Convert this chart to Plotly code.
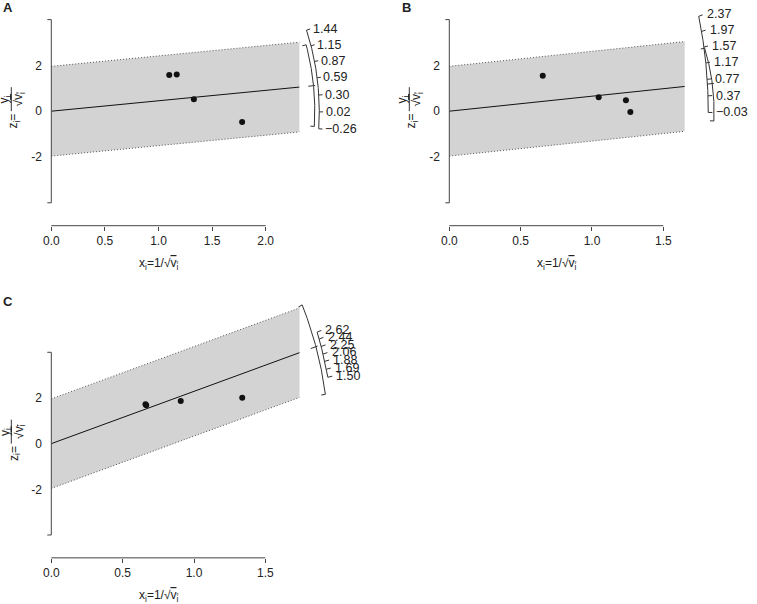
import numpy as np
import plotly.graph_objects as go

W, H = 757, 604
FONT = "Liberation Sans, Arial, Helvetica, sans-serif"
INK = "#222222"
AXC = "#444444"

# ---------------- data ----------------
A_xi = [1.10, 1.17, 1.33, 1.78]
A_zi = [1.58, 1.60, 0.52, -0.47]
A_est, A_ci_lb, A_ci_ub = 0.455, -0.27, 1.22
A_arc_ticks = [-0.26, 0.02, 0.30, 0.59, 0.87, 1.15, 1.44]
A_xticks = [0.0, 0.5, 1.0, 1.5, 2.0]

B_xi = [0.655, 1.047, 1.238, 1.269]
B_zi = [1.553, 0.61, 0.48, -0.04]
B_est, B_ci_lb, B_ci_ub = 0.655, -0.23, 1.54
B_arc_ticks = [-0.03, 0.37, 0.77, 1.17, 1.57, 1.97, 2.37]
B_xticks = [0.0, 0.5, 1.0, 1.5]

C_xi = [0.66, 0.665, 0.907, 1.338]
C_zi = [1.73, 1.68, 1.87, 2.01]
C_est, C_ci_lb, C_ci_ub = 2.29, 1.125, 3.455
C_arc_ticks = [1.50, 1.69, 1.88, 2.06, 2.25, 2.44, 2.62]
C_xticks = [0.0, 0.5, 1.0, 1.5]

y_tick_vals = [-2, 0, 2]
y_tick_text = ["-2", "0", "2"]
y_axis_span = [-4, 4]
x_axis_z = -5
zcrit = 1.96

# ---------------- panel geometry (pixels) ----------------
panels = [
    dict(name="A", ax="", xi=A_xi, zi=A_zi, est=A_est, lb=A_ci_lb, ub=A_ci_ub,
         arc=A_arc_ticks, xticks=A_xticks,
         x0=51.3, sx=107.2, z0=111.2, sz=22.9, left=0, right=378, top=0, bottom=290,
         asp_ci=4.64, asp_ya=4.64, L_ci=2.458, L_ya=2.50, arc_k=1.055, arc_m=0.6,
         tick_f=1.014, lab_f=1.016, lab_shift=0, letter=(1.0, 7.0)),
    dict(name="B", ax="2", xi=B_xi, zi=B_zi, est=B_est, lb=B_ci_lb, ub=B_ci_ub,
         arc=B_arc_ticks, xticks=B_xticks,
         x0=449.3, sx=142.67, z0=111.2, sz=22.9, left=380, right=757, top=0, bottom=290,
         asp_ci=5.6, asp_ya=8.5, L_ci=1.856, L_ya=1.815, arc_k=1.0, arc_m=0.0,
         tick_f=1.016, lab_f=1.02, lab_shift=1, letter=(399.5, 7.0)),
    dict(name="C", ax="3", xi=C_xi, zi=C_zi, est=C_est, lb=C_ci_lb, ub=C_ci_ub,
         arc=C_arc_ticks, xticks=C_xticks,
         x0=51.3, sx=142.7, z0=443.65, sz=22.84, left=0, right=378, top=292, bottom=604,
         asp_ci=7.34, asp_ya=7.34, L_ci=1.943, L_ya=1.978, arc_k=1.0, arc_m=0.0,
         tick_f=1.016, lab_f=1.02, lab_shift=1, letter=(0.5, 301.0)),
]


def arc_xy(L, a, th):
    th = np.asarray(th, dtype=float)
    x = L / np.sqrt(1.0 + (th / a) ** 2)
    return x, x * th


def fmt(v):
    return f"{v:.2f}".replace("-", "\u2212")


fig = go.Figure()
annotations = []
shapes = []
layout_axes = {}

for p in panels:
    xa = "x" + p["ax"]
    ya = "y" + p["ax"]
    common = dict(xaxis=xa, yaxis=ya, hoverinfo="skip", showlegend=False)
    xi = np.array(p["xi"])
    zi = np.array(p["zi"])
    est = p["est"]
    xmax = 1.3 * xi.max()

    # shaded band
    fig.add_trace(go.Scatter(
        x=[0, xmax, xmax, 0, 0],
        y=[zcrit, zcrit + xmax * est, -zcrit + xmax * est, -zcrit, zcrit],
        mode="lines", fill="toself", fillcolor="#D3D3D3",
        line=dict(width=0, color="rgba(0,0,0,0)"), **common))
    # dotted borders
    fig.add_trace(go.Scatter(
        x=[0, xmax, None, 0, xmax],
        y=[zcrit, zcrit + xmax * est, None, -zcrit, -zcrit + xmax * est],
        mode="lines", line=dict(color="#555555", width=1, dash="1px,2px"), **common))
    # regression line through origin
    fig.add_trace(go.Scatter(x=[0, xmax], y=[0, xmax * est], mode="lines",
                             line=dict(color="#111111", width=1), **common))
    # y axis line with end ticks
    t = 4.0 / p["sx"]
    fig.add_trace(go.Scatter(
        x=[-t, 0, 0, -t], y=[y_axis_span[1], y_axis_span[1], y_axis_span[0], y_axis_span[0]],
        mode="lines", line=dict(color=AXC, width=1), **common))
    # x axis line
    fig.add_trace(go.Scatter(x=[0, max(p["xticks"])], y=[x_axis_z, x_axis_z], mode="lines",
                             line=dict(color=AXC, width=1), **common))
    # points
    fig.add_trace(go.Scatter(x=xi, y=zi, mode="markers",
                             marker=dict(color="#111111", size=6), **common))

    k, m = p["arc_k"], p["arc_m"]
    # y-value arc with ticks and labels
    a = p["asp_ya"]
    arc = np.array(p["arc"])
    arc_draw = m + k * (arc - m)
    th = np.linspace(arc_draw.min(), arc_draw.max(), 150)
    ax_, az_ = arc_xy(p["L_ya"], a, th)
    fig.add_trace(go.Scatter(x=ax_, y=az_, mode="lines",
                             line=dict(color="#333333", width=1), **common))
    tx, tz = [], []
    for v, vd in zip(arc, arc_draw):
        x1, z1 = arc_xy(p["L_ya"], a, vd)
        x2, z2 = arc_xy(p["L_ya"] * p["tick_f"], a, vd)
        tx += [x1, x2, None]
        tz += [z1, z2, None]
        xl, zl = arc_xy(p["L_ya"] * p["lab_f"], a, vd)
        annotations.append(dict(x=float(xl), y=float(zl), xref=xa, yref=ya, text=fmt(v),
                                showarrow=False, xanchor="left", yanchor="middle",
                                xshift=p["lab_shift"],
                                font=dict(size=12.5, color=INK, family=FONT)))
    fig.add_trace(go.Scatter(x=tx, y=tz, mode="lines",
                             line=dict(color="#333333", width=1), **common))

    # CI arc
    a = p["asp_ci"]
    th = np.linspace(p["lb"], p["ub"], 150)
    cx, cz = arc_xy(p["L_ci"], a, th)
    fig.add_trace(go.Scatter(x=cx, y=cz, mode="lines",
                             line=dict(color="#333333", width=1), **common))
    tx, tz = [], []
    for v, (f1, f2) in ((p["lb"], (0.985, 1.0)), (p["ub"], (0.985, 1.0)), (est, (0.98, 1.006))):
        x1, z1 = arc_xy(p["L_ci"] * f1, a, v)
        x2, z2 = arc_xy(p["L_ci"] * f2, a, v)
        tx += [x1, x2, None]
        tz += [z1, z2, None]
    fig.add_trace(go.Scatter(x=tx, y=tz, mode="lines",
                             line=dict(color="#333333", width=1), **common))

    # axes
    xr = [(p["left"] - p["x0"]) / p["sx"], (p["right"] - p["x0"]) / p["sx"]]
    zr = [(p["z0"] - p["bottom"]) / p["sz"], (p["z0"] - p["top"]) / p["sz"]]
    axis_py = p["z0"] - x_axis_z * p["sz"]
    layout_axes["xaxis" + p["ax"]] = dict(
        domain=[p["left"] / W, p["right"] / W], range=xr, anchor="free",
        position=1 - axis_py / H, showgrid=False, zeroline=False, showline=False,
        tickmode="array", tickvals=p["xticks"], ticktext=[f"{v:.1f}" for v in p["xticks"]],
        ticks="outside", ticklen=4, tickwidth=1, tickcolor=AXC,
        tickfont=dict(size=12, color=INK, family=FONT), fixedrange=True)
    layout_axes["yaxis" + p["ax"]] = dict(
        domain=[1 - p["bottom"] / H, 1 - p["top"] / H], range=zr, anchor="free",
        position=p["x0"] / W, showgrid=False, zeroline=False, showline=False,
        tickmode="array", tickvals=y_tick_vals, ticktext=y_tick_text,
        ticks="outside", ticklen=7, tickcolor="rgba(0,0,0,0)",
        tickfont=dict(size=12, color=INK, family=FONT), fixedrange=True)

    # x-axis title
    mid = (min(p["xticks"]) + max(p["xticks"])) / 2
    annotations.append(dict(
        x=mid, xref=xa, y=1 - (axis_py + 38) / H, yref="paper",
        text="x<sub>i</sub>=1/\u221a<span style='text-decoration:overline'>v<sub>i</sub></span>",
        showarrow=False, xanchor="center", yanchor="middle",
        font=dict(size=12, color=INK, family=FONT)))

    # y-axis title: z_i = y_i / sqrt(v_i)  (rotated fraction)
    X0, Z0 = p["x0"], p["z0"]

    def pann(text, xpx, ypx, size=12):
        annotations.append(dict(x=xpx / W, y=1 - ypx / H, xref="paper", yref="paper",
                                text=text, showarrow=False, textangle=-90,
                                xanchor="center", yanchor="middle",
                                font=dict(size=size, color=INK, family=FONT)))
    pann("z<sub>i</sub>=", X0 - 37, Z0 + 10)
    pann("y<sub>i</sub>", X0 - 46, Z0 - 12)
    pann("\u221a<span style='text-decoration:overline'>v<sub>i</sub></span>", X0 - 32, Z0 - 12)
    shapes.append(dict(type="line", xref="paper", yref="paper",
                       x0=(X0 - 40) / W, x1=(X0 - 40) / W,
                       y0=1 - (Z0 - 24) / H, y1=1 - (Z0 + 0) / H,
                       line=dict(color="#333333", width=1)))

    # panel letter
    lx, ly = p["letter"]
    annotations.append(dict(x=lx / W, y=1 - ly / H, xref="paper", yref="paper",
                            text="<b>" + p["name"] + "</b>", showarrow=False,
                            xanchor="left", yanchor="middle",
                            font=dict(size=13, color=INK, family=FONT)))

fig.update_layout(
    width=W, height=H, margin=dict(l=0, r=0, t=0, b=0),
    paper_bgcolor="white", plot_bgcolor="rgba(0,0,0,0)",
    showlegend=False, annotations=annotations, shapes=shapes,
    font=dict(family=FONT, color=INK), **layout_axes)

fig.write_html("out.html", config={"displayModeBar": False},
               post_script="document.body.style.margin='0px';document.body.style.overflow='hidden';")
